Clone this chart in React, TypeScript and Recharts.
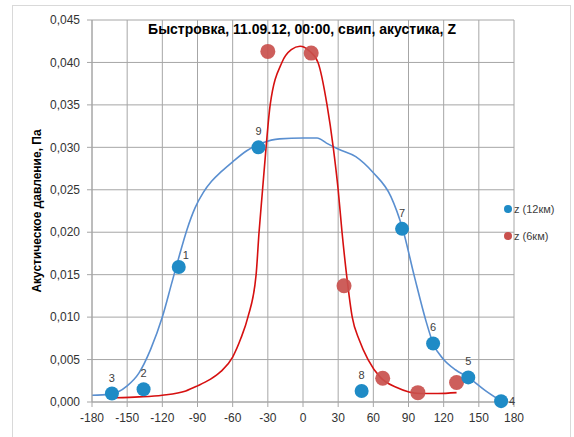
import React from 'react';
import {
  ComposedChart,
  Line,
  Scatter,
  XAxis,
  YAxis,
  CartesianGrid,
} from 'recharts';

// точки измерений z (12км), подписи 1..9
const blueLabels = ['1', '2', '3', '4', '5', '6', '7', '8', '9'];
const blueX = [-106, -136, -163, 169, 141, 111, 84.5, 50, -38];
const blueY = [0.0159, 0.0015, 0.001, 0.0001, 0.0029, 0.0069, 0.0204, 0.0013, 0.03];

// точки измерений z (6км)
const redX = [-30, 7, 35, 68, 98, 131];
const redY = [0.0413, 0.0411, 0.0137, 0.0028, 0.0011, 0.0023];

// линия тренда для 12км
const blueCurveX = [-180, -165, -150, -140, -130, -120, -112, -106, -99, -92, -85, -78, -70, -60, -48, -35, -20, 0, 12, 20, 30, 45, 60, 75, 85, 95, 105, 111, 120, 130, 141, 155, 169];
const blueCurveY = [0.0008, 0.0009, 0.0019, 0.0034, 0.0062, 0.01, 0.014, 0.017, 0.0203, 0.0229, 0.0247, 0.026, 0.0271, 0.0283, 0.0296, 0.0305, 0.031, 0.0311, 0.0311, 0.0305, 0.0298, 0.0289, 0.027, 0.0242, 0.0204, 0.0148, 0.0095, 0.0069, 0.005, 0.0038, 0.0029, 0.0014, 0.0001];

// линия тренда для 6км
const redCurveX = [-160, -140, -120, -100, -90, -80, -70, -60, -53, -47, -40, -37.5, -34.5, -31.5, -28, -18, -10, -2.5, 5, 12.8, 20.5, 25.8, 30, 33.3, 37.5, 42, 48, 55.5, 66, 80, 100, 115, 131];
const redCurveY = [0.0005, 0.0006, 0.0008, 0.0013, 0.0019, 0.0026, 0.0036, 0.0053, 0.0075, 0.01, 0.015, 0.02, 0.025, 0.03, 0.035, 0.04, 0.0415, 0.0419, 0.0414, 0.04, 0.035, 0.03, 0.025, 0.02, 0.0146, 0.01, 0.0073, 0.005, 0.0029, 0.0017, 0.001, 0.001, 0.0011];

const xTicks = [-180, -150, -120, -90, -60, -30, 0, 30, 60, 90, 120, 150, 180];
const yTicks = [0, 0.005, 0.01, 0.015, 0.02, 0.025, 0.03, 0.035, 0.04, 0.045];

const bluePts = blueX.map((x, i) => ({ x, y: blueY[i], label: blueLabels[i] }));
const redPts = redX.map((x, i) => ({ x, y: redY[i] }));
const blueCurve = blueCurveX.map((x, i) => ({ x, y: blueCurveY[i] }));
const redCurve = redCurveX.map((x, i) => ({ x, y: redCurveY[i] }));

const FONT = '"Liberation Sans", Arial, sans-serif';
const GRID = '#a6a6a6';
const BLUE = '#1f8bc6';
const RED = '#c9504d';

const BlueDot = (p: any) => {
  const { cx, cy, payload } = p;
  let lx = cx;
  let ly = cy - 12;
  let anchor = 'middle';
  if (payload.label === '4') {
    lx = cx + 8;
    ly = cy + 4;
    anchor = 'start';
  } else if (payload.label === '1') {
    lx = cx + 7;
    ly = cy - 8;
  }
  return (
    <g>
      <circle cx={cx} cy={cy} r={7} fill={BLUE} />
      <text x={lx} y={ly} textAnchor={anchor} fontSize={11} fill="#404040" fontFamily={FONT}>
        {payload.label}
      </text>
    </g>
  );
};

const RedDot = (p: any) => (
  <circle cx={p.cx} cy={p.cy} r={7.5} fill={RED} fillOpacity={0.92} />
);

const fmt = (v: number) => v.toFixed(3).replace('.', ',');

export default function App() {
  return (
    <div style={{ position: 'absolute', left: 0, top: 0, width: 574, height: 437, background: '#fff', overflow: 'hidden', fontFamily: FONT }}>
      <div style={{ position: 'absolute', left: 12, top: 5, width: 557, height: 450, border: '1px solid #d9d9d9' }} />
      <ComposedChart
        width={574}
        height={437}
        margin={{ top: 20, right: 60, bottom: 15, left: 30 }}
        style={{ position: 'absolute', left: 0, top: 0 }}
      >
        <CartesianGrid stroke={GRID} horizontalValues={yTicks} verticalValues={xTicks} />
        <XAxis
          type="number"
          dataKey="x"
          domain={[-180, 180]}
          ticks={xTicks}
          height={20}
          axisLine={{ stroke: GRID }}
          tickLine={{ stroke: GRID }}
          tickSize={5}
          tickMargin={6}
          tick={{ fontSize: 12, fill: '#333', fontFamily: FONT }}
        />
        <YAxis
          type="number"
          dataKey="y"
          domain={[0, 0.045]}
          ticks={yTicks}
          width={62}
          axisLine={{ stroke: GRID }}
          tickLine={{ stroke: GRID }}
          tickSize={5}
          tickMargin={7}
          tickFormatter={fmt}
          tick={{ fontSize: 12, fill: '#333', fontFamily: FONT }}
        />
        <Line data={blueCurve} dataKey="y" type="monotone" stroke="#5a8fd0" strokeWidth={1.6} dot={false} isAnimationActive={false} />
        <Line data={redCurve} dataKey="y" type="monotone" stroke="#d61010" strokeWidth={1.6} dot={false} isAnimationActive={false} />
        <Scatter data={redPts} dataKey="y" shape={RedDot} isAnimationActive={false} />
        <Scatter data={bluePts} dataKey="y" shape={BlueDot} isAnimationActive={false} />
      </ComposedChart>
      <div style={{ position: 'absolute', left: 0, width: 574, top: 21, textAlign: 'center', paddingLeft: 30, boxSizing: 'border-box', fontSize: 14, fontWeight: 'bold', color: '#000' }}>
        Быстровка, 11.09.12, 00:00, свип, акустика, Z
      </div>
      <div style={{ position: 'absolute', left: 37, top: 211, transform: 'translate(-50%, -50%) rotate(-90deg)', whiteSpace: 'nowrap', fontSize: 12, fontWeight: 'bold', color: '#000' }}>
        Акустическое давление, Па
      </div>
      <div style={{ position: 'absolute', left: 504, top: 202, fontSize: 11, color: '#404040', lineHeight: '14px' }}>
        <div style={{ display: 'flex', alignItems: 'center', height: 14 }}>
          <span style={{ width: 8, height: 8, borderRadius: 4, background: BLUE, marginRight: 2 }} />z (12км)
        </div>
        <div style={{ display: 'flex', alignItems: 'center', height: 14, marginTop: 13 }}>
          <span style={{ width: 8, height: 8, borderRadius: 4, background: RED, marginRight: 2 }} />z (6км)
        </div>
      </div>
    </div>
  );
}
